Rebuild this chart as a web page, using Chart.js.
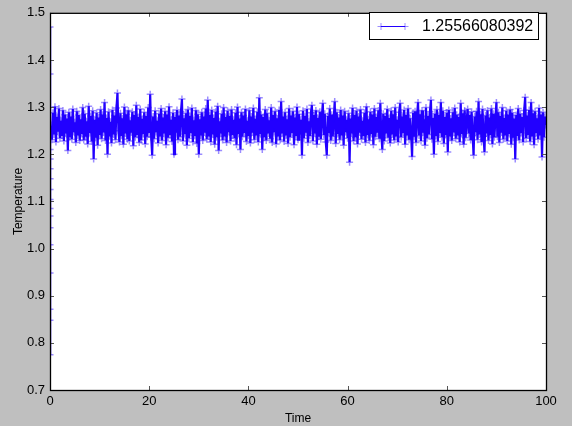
<!DOCTYPE html>
<html lang="en">
<head>
    <meta charset="UTF-8">
    <title>Temperature vs Time</title>
    <script src="https://cdn.jsdelivr.net/npm/chart.js"></script>
    <style>
        body {
            margin: 0;
            background-color: #bfbfbf;
        }
    </style>
</head>
<body>
    <canvas id="myChart" width="572" height="426"></canvas>

    <script>
        // start-up transient, all squeezed onto t = 0
        const initTimes = [0, 0, 0, 0, 0, 0.01, 0.01, 0.01, 0.01, 0.01, 0.02, 0.02, 0.02, 0.02, 0.03, 0.03];
        const initTemps = [1.47, 1.37, 0.775, 0.848, 0.871, 0.948, 1.008, 1.044, 1.069, 1.085, 1.104, 1.125, 1.148, 1.169, 1.19, 1.21];

        // sampled temperature, one value every 0.2 time units from 0.2 to 100
        const timeStep = 0.2;
        const temps = [
            1.262, 1.231, 1.288, 1.242, 1.301, 1.226, 1.279, 1.248, 1.297, 1.234,
            1.271, 1.239, 1.293, 1.228, 1.284, 1.244, 1.276, 1.208, 1.289, 1.236,
            1.280, 1.232, 1.296, 1.247, 1.268, 1.225, 1.291, 1.240, 1.283, 1.229,
            1.274, 1.243, 1.299, 1.230, 1.286, 1.237, 1.270, 1.222, 1.302, 1.245,
            1.281, 1.227, 1.292, 1.190, 1.273, 1.235, 1.288, 1.219, 1.278, 1.241,
            1.295, 1.233, 1.284, 1.246, 1.310, 1.229, 1.277, 1.200, 1.290, 1.238,
            1.269, 1.224, 1.294, 1.242, 1.282, 1.231, 1.298, 1.330, 1.250, 1.226,
            1.287, 1.239, 1.276, 1.221, 1.300, 1.244, 1.285, 1.232, 1.293, 1.228,
            1.272, 1.246, 1.290, 1.218, 1.283, 1.236, 1.304, 1.241, 1.279, 1.225,
            1.296, 1.230, 1.275, 1.243, 1.289, 1.222, 1.281, 1.237, 1.299, 1.245,
            1.327, 1.236, 1.198, 1.280, 1.233, 1.292, 1.247, 1.271, 1.224, 1.286,
            1.238, 1.297, 1.229, 1.278, 1.244, 1.291, 1.220, 1.284, 1.235, 1.301,
            1.241, 1.273, 1.227, 1.288, 1.200, 1.279, 1.246, 1.294, 1.231, 1.282,
            1.237, 1.290, 1.317, 1.228, 1.276, 1.243, 1.287, 1.219, 1.295, 1.234,
            1.281, 1.245, 1.298, 1.226, 1.272, 1.239, 1.293, 1.223, 1.285, 1.200,
            1.274, 1.240, 1.289, 1.229, 1.280, 1.246, 1.297, 1.232, 1.315, 1.238,
            1.283, 1.226, 1.294, 1.242, 1.277, 1.221, 1.290, 1.236, 1.302, 1.208,
            1.270, 1.244, 1.286, 1.230, 1.299, 1.238, 1.279, 1.225, 1.292, 1.247,
            1.281, 1.228, 1.295, 1.241, 1.273, 1.234, 1.288, 1.220, 1.300, 1.243,
            1.276, 1.210, 1.289, 1.237, 1.282, 1.245, 1.296, 1.227, 1.271, 1.239,
            1.293, 1.224, 1.280, 1.246, 1.298, 1.231, 1.275, 1.240, 1.290, 1.226,
            1.320, 1.243, 1.284, 1.210, 1.279, 1.236, 1.295, 1.229, 1.287, 1.244,
            1.272, 1.233, 1.299, 1.225, 1.283, 1.247, 1.291, 1.222, 1.276, 1.238,
            1.294, 1.230, 1.312, 1.244, 1.280, 1.227, 1.289, 1.240, 1.274, 1.223,
            1.297, 1.236, 1.282, 1.245, 1.291, 1.220, 1.278, 1.239, 1.300, 1.231,
            1.285, 1.242, 1.273, 1.198, 1.292, 1.234, 1.281, 1.246, 1.296, 1.225,
            1.270, 1.239, 1.288, 1.304, 1.228, 1.283, 1.244, 1.293, 1.221, 1.277,
            1.237, 1.290, 1.232, 1.279, 1.308, 1.241, 1.286, 1.226, 1.198, 1.281,
            1.245, 1.297, 1.229, 1.284, 1.238, 1.275, 1.312, 1.223, 1.289, 1.243,
            1.278, 1.231, 1.294, 1.240, 1.282, 1.219, 1.291, 1.247, 1.273, 1.234,
            1.287, 1.183, 1.276, 1.244, 1.298, 1.228, 1.283, 1.236, 1.292, 1.222,
            1.280, 1.246, 1.295, 1.232, 1.271, 1.239, 1.288, 1.225, 1.301, 1.241,
            1.274, 1.229, 1.290, 1.243, 1.284, 1.220, 1.297, 1.237, 1.279, 1.246,
            1.293, 1.233, 1.308, 1.241, 1.210, 1.286, 1.228, 1.281, 1.244, 1.296,
            1.235, 1.277, 1.224, 1.292, 1.242, 1.285, 1.230, 1.299, 1.238, 1.273,
            1.226, 1.289, 1.308, 1.236, 1.280, 1.245, 1.294, 1.221, 1.283, 1.240,
            1.297, 1.231, 1.276, 1.243, 1.195, 1.288, 1.237, 1.291, 1.225, 1.282,
            1.310, 1.240, 1.285, 1.228, 1.293, 1.246, 1.274, 1.219, 1.299, 1.234,
            1.281, 1.242, 1.290, 1.315, 1.232, 1.277, 1.200, 1.286, 1.239, 1.295,
            1.227, 1.283, 1.245, 1.310, 1.236, 1.292, 1.223, 1.279, 1.241, 1.288,
            1.205, 1.294, 1.238, 1.276, 1.229, 1.289, 1.246, 1.298, 1.233, 1.284,
            1.240, 1.279, 1.226, 1.308, 1.243, 1.287, 1.221, 1.293, 1.235, 1.272,
            1.296, 1.244, 1.283, 1.230, 1.290, 1.239, 1.198, 1.280, 1.247, 1.291,
            1.231, 1.312, 1.242, 1.285, 1.226, 1.296, 1.238, 1.205, 1.282, 1.244,
            1.293, 1.229, 1.278, 1.241, 1.297, 1.222, 1.286, 1.236, 1.274, 1.310,
            1.237, 1.289, 1.225, 1.281, 1.246, 1.299, 1.232, 1.277, 1.240, 1.292,
            1.228, 1.284, 1.243, 1.295, 1.221, 1.288, 1.235, 1.276, 1.190, 1.283,
            1.239, 1.297, 1.230, 1.286, 1.245, 1.279, 1.226, 1.293, 1.321, 1.234,
            1.282, 1.241, 1.294, 1.227, 1.310, 1.238, 1.287, 1.220, 1.291, 1.245,
            1.276, 1.232, 1.298, 1.240, 1.284, 1.194, 1.289, 1.236, 1.280, 1.262
        ];

        const legendLabel = '1.25566080392';
        const xTicks = [0, 20, 40, 60, 80, 100];
        const yTicks = [0.7, 0.8, 0.9, 1.0, 1.1, 1.2, 1.3, 1.4, 1.5];

        const lineColor = '#2200ff';
        const markerColor = 'rgba(34, 0, 255, 0.45)';
        const fontFamily = '"Liberation Sans", Arial, sans-serif';

        const points = initTimes.map((t, i) => ({ x: t, y: initTemps[i] }))
            .concat(temps.map((v, i) => ({ x: (i + 1) * timeStep, y: v })));

        // gray figure, white axes, black frame and inward ticks like matplotlib
        const framePlugin = {
            id: 'frame',
            beforeDraw(chart) {
                const { ctx, chartArea: a } = chart;
                ctx.save();
                ctx.fillStyle = '#bfbfbf';
                ctx.fillRect(0, 0, chart.width, chart.height);
                ctx.fillStyle = '#ffffff';
                ctx.fillRect(a.left, a.top, a.right - a.left, a.bottom - a.top);
                ctx.restore();
            },
            afterDraw(chart) {
                const { ctx, chartArea: a, scales } = chart;
                ctx.save();
                ctx.strokeStyle = '#555555';
                ctx.lineWidth = 1;
                ctx.beginPath();
                xTicks.forEach(v => {
                    const px = Math.round(scales.x.getPixelForValue(v)) + 0.5;
                    ctx.moveTo(px, a.bottom); ctx.lineTo(px, a.bottom - 4);
                    ctx.moveTo(px, a.top); ctx.lineTo(px, a.top + 4);
                });
                yTicks.forEach(v => {
                    const py = Math.round(scales.y.getPixelForValue(v)) + 0.5;
                    ctx.moveTo(a.left, py); ctx.lineTo(a.left + 4, py);
                    ctx.moveTo(a.right, py); ctx.lineTo(a.right - 4, py);
                });
                ctx.stroke();

                ctx.strokeStyle = '#000000';
                ctx.lineWidth = 1.3;
                ctx.strokeRect(a.left + 0.5, a.top + 0.5, a.right - a.left, a.bottom - a.top);

                // legend box
                const lx = 369.5, ly = 12.5, lw = 169, lh = 27;
                ctx.fillStyle = '#ffffff';
                ctx.fillRect(lx, ly, lw, lh);
                ctx.strokeStyle = '#000000';
                ctx.lineWidth = 1;
                ctx.strokeRect(lx, ly, lw, lh);

                const sy = 26.5;
                ctx.strokeStyle = lineColor;
                ctx.beginPath();
                ctx.moveTo(381, sy); ctx.lineTo(405, sy);
                ctx.stroke();
                ctx.strokeStyle = markerColor;
                ctx.beginPath();
                [381, 405].forEach(mx => {
                    ctx.moveTo(mx - 3.5, sy); ctx.lineTo(mx + 3.5, sy);
                    ctx.moveTo(mx, sy - 3.5); ctx.lineTo(mx, sy + 3.5);
                });
                ctx.stroke();

                ctx.fillStyle = '#000000';
                ctx.font = '16px ' + fontFamily;
                ctx.textBaseline = 'middle';
                ctx.textAlign = 'left';
                ctx.fillText(legendLabel, 422, 27);
                ctx.restore();
            }
        };

        const ctx = document.getElementById('myChart').getContext('2d');
        const chart = new Chart(ctx, {
            type: 'line',
            data: {
                datasets: [{
                    label: legendLabel,
                    data: points,
                    borderColor: lineColor,
                    borderWidth: 2.2,
                    pointStyle: 'cross',
                    pointRadius: 3.5,
                    pointBorderColor: markerColor,
                    pointBackgroundColor: markerColor,
                    pointBorderWidth: 1.5,
                    fill: false,
                    tension: 0,
                    clip: { left: 0, top: 4, right: 0, bottom: 4 }
                }]
            },
            options: {
                responsive: false,
                animation: false,
                layout: { padding: { top: 3, right: 26, left: 0, bottom: 0 } },
                plugins: {
                    legend: { display: false },
                    tooltip: { enabled: false }
                },
                scales: {
                    x: {
                        type: 'linear',
                        min: 0,
                        max: 100,
                        afterFit: s => { s.height = 36; },
                        afterBuildTicks: s => { s.ticks = xTicks.map(v => ({ value: v })); },
                        grid: { display: false, drawTicks: false },
                        border: { display: false },
                        ticks: {
                            padding: 4,
                            color: '#000000',
                            font: { family: fontFamily, size: 13 },
                            maxRotation: 0
                        },
                        title: {
                            display: true,
                            text: 'Time',
                            color: '#000000',
                            font: { family: fontFamily, size: 12 },
                            padding: { top: 0, bottom: 0 }
                        }
                    },
                    y: {
                        min: 0.7,
                        max: 1.5,
                        afterFit: s => { s.width = 50; },
                        afterBuildTicks: s => { s.ticks = yTicks.map(v => ({ value: v })); },
                        grid: { display: false, drawTicks: false },
                        border: { display: false },
                        ticks: {
                            padding: 5,
                            color: '#000000',
                            font: { family: fontFamily, size: 13 },
                            callback: v => v.toFixed(1)
                        },
                        title: {
                            display: true,
                            text: 'Temperature',
                            color: '#000000',
                            font: { family: fontFamily, size: 12 },
                            padding: { top: 11, bottom: 0 }
                        }
                    }
                }
            },
            plugins: [framePlugin]
        });
    </script>
</body>
</html>
